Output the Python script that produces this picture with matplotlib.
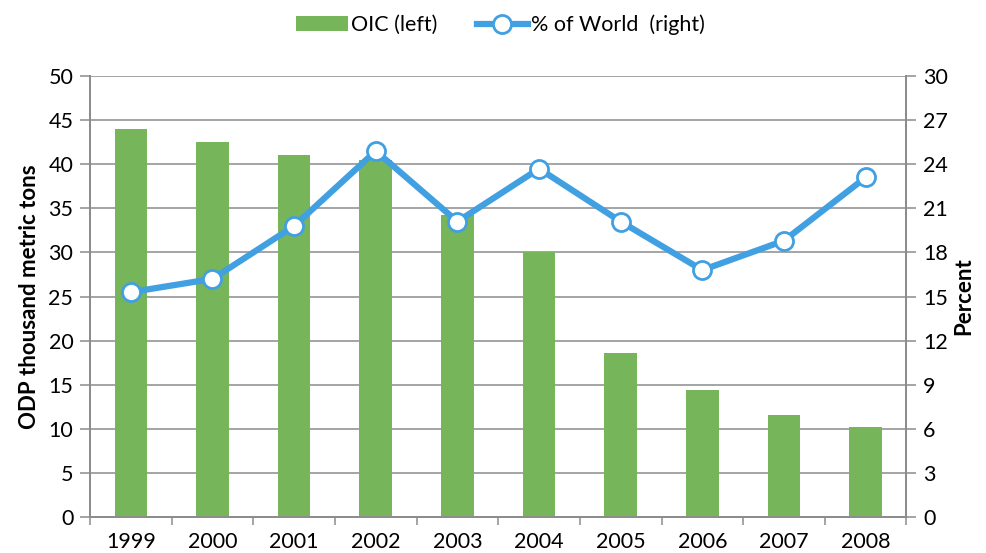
import numpy as np
import matplotlib
matplotlib.use("Agg")
import matplotlib.pyplot as plt
from matplotlib.ticker import FixedLocator

plt.rcParams['font.family'] = ['Lato', 'DejaVu Sans']

# data
years = ['1999', '2000', '2001', '2002', '2003', '2004', '2005', '2006', '2007', '2008']
oic = [44.0, 42.5, 41.0, 40.5, 34.2, 30.0, 18.6, 14.4, 11.6, 10.2]
pct_world = [15.3, 16.2, 19.8, 24.9, 20.1, 23.7, 20.1, 16.8, 18.8, 23.1]

green = '#77B55A'
blue = '#41A0E1'
grey = '#8C8C8C'

fig = plt.figure(figsize=(9.86, 5.53), dpi=100)
ax = fig.add_axes([0.0913, 0.065, 0.828, 0.7975])
ax2 = ax.twinx()

x = np.arange(len(years))
bars = ax.bar(x, oic, width=0.4, color=green, zorder=2, label='OIC (left)')
line, = ax2.plot(x, pct_world, color=blue, lw=4.5, marker='o', ms=13,
                 mfc='white', mec=blue, mew=2, zorder=3, label='% of World  (right)')

ax.set_xlim(-0.5, len(years) - 0.5)
ax.set_ylim(0, 50)
ax2.set_ylim(0, 30)
ax.set_yticks(np.arange(0, 51, 5))
ax2.set_yticks(np.arange(0, 31, 3))

ax.yaxis.grid(True, color=grey, lw=1.1, zorder=0)
ax.set_axisbelow(True)

# x ticks: labels at centres, marks at boundaries
ax.set_xticks(x)
ax.set_xticklabels(years)
ax.xaxis.set_minor_locator(FixedLocator(np.arange(-0.5, len(years), 1.0)))
ax.tick_params(axis='x', which='major', length=0, pad=11, labelsize=15.5)
ax.tick_params(axis='x', which='minor', length=6, width=1.1, color=grey, direction='out')
ax.tick_params(axis='y', length=7, width=1.1, color=grey, labelsize=15.5, pad=5)
ax2.tick_params(axis='y', length=7, width=1.1, color=grey, labelsize=15.5, pad=5)

for a in (ax, ax2):
    for s in a.spines.values():
        s.set_color(grey)
        s.set_linewidth(1.3)
    a.spines['top'].set_visible(False)

ax.set_ylabel('ODP thousand metric tons', fontsize=16, fontweight='bold', labelpad=6)
ax2.set_ylabel('Percent', fontsize=16, fontweight='bold', labelpad=4)

fig.legend(handles=[bars, line], loc='center', bbox_to_anchor=(0.508, 0.955),
           ncol=2, frameon=False, fontsize=15.5, handlelength=2.4,
           handletextpad=0.15, columnspacing=1.8)

fig.savefig('out.png', dpi=100)
